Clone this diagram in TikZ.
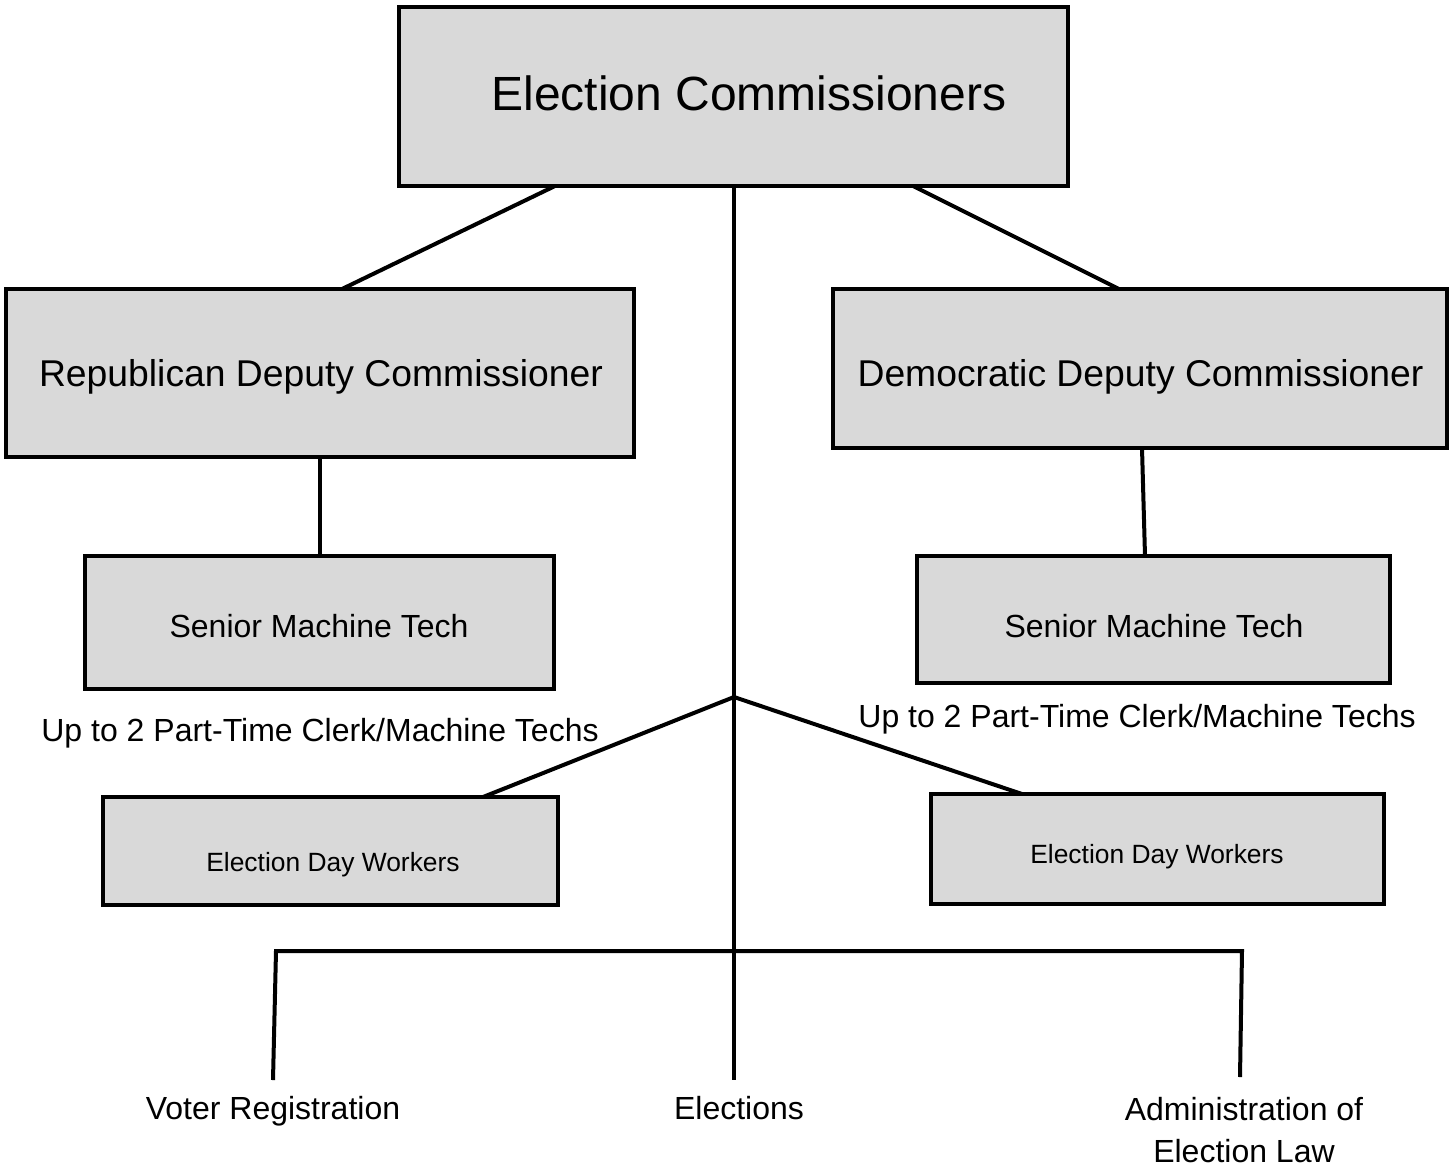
\documentclass[tikz,border=0pt]{standalone}
\usepackage{fontspec}
\setmainfont{Liberation Sans}
\begin{document}
\begin{tikzpicture}[x=1pt,y=-1pt,
  box/.style={draw=black,line width=4pt,fill={rgb,255:red,217;green,217;blue,217},inner sep=0pt,anchor=center},
  conn/.style={line width=4pt,draw=black},
  lbl/.style={inner sep=0pt,anchor=center,text=black}]
\useasboundingbox[fill=white] (0,0) rectangle (1453,1163);
% boxes
\node[box,minimum width=669pt,minimum height=179pt] (top) at (733.5,96.5) {};
\node[lbl,font=\fontsize{48}{58}\selectfont] (toptxt) at (749,93) {Election Commissioners};
\node[box,minimum width=628pt,minimum height=168pt] (rep) at (320,373) {};
\node[lbl,font=\fontsize{37.3}{44}\selectfont] (reptxt) at (321,377) {Republican Deputy Commissioner};
\node[box,minimum width=614pt,minimum height=159pt] (dem) at (1140,368.5) {};
\node[lbl,font=\fontsize{37.3}{44}\selectfont] (demtxt) at (1140.5,377) {Democratic Deputy Commissioner};
\node[box,minimum width=469pt,minimum height=133pt] (seniorL) at (319.5,622.5) {};
\node[lbl,font=\fontsize{32}{38}\selectfont] (seniorLtxt) at (319,626) {Senior Machine Tech};
\node[box,minimum width=473pt,minimum height=127pt] (seniorR) at (1153.5,619.5) {};
\node[lbl,font=\fontsize{32}{38}\selectfont] (seniorRtxt) at (1154,626) {Senior Machine Tech};
\node[box,minimum width=455pt,minimum height=108pt] (edwL) at (330.5,851) {};
\node[lbl,font=\fontsize{26.4}{32}\selectfont] (edwLtxt) at (333,865) {Election Day Workers};
\node[box,minimum width=453pt,minimum height=110pt] (edwR) at (1157.5,849) {};
\node[lbl,font=\fontsize{26.4}{32}\selectfont] (edwRtxt) at (1157,857) {Election Day Workers};
% free labels
\node[lbl,font=\fontsize{32}{38}\selectfont] (ptL) at (320,733) {Up to 2 Part-Time Clerk/Machine Techs};
\node[lbl,font=\fontsize{32}{38}\selectfont] (ptR) at (1137,719) {Up to 2 Part-Time Clerk/Machine Techs};
\node[lbl,font=\fontsize{32}{38}\selectfont] (voter) at (273,1111) {Voter Registration};
\node[lbl,font=\fontsize{32}{38}\selectfont] (elections) at (739,1108) {Elections};
\node[lbl,font=\fontsize{32}{38}\selectfont,align=center] (admin) at (1244,1130) {Administration of\\[4pt]Election Law};
% connector points
\coordinate (tL) at (555,186);
\coordinate (tR) at (913,186);
\coordinate (tM) at (734,186);
\coordinate (repT) at (342,289);
\coordinate (demT) at (1119,289);
\coordinate (repB) at (320,457);
\coordinate (sLT) at (320,556);
\coordinate (demB) at (1142,448);
\coordinate (sRT) at (1145,556);
\coordinate (fork) at (734,697);
\coordinate (eLT) at (483,797);
\coordinate (eRT) at (1022,794);
\coordinate (hM) at (734,951);
\coordinate (hL) at (276,951);
\coordinate (hR) at (1242,951);
\coordinate (vEnd) at (273,1080);
\coordinate (mEnd) at (734,1080);
\coordinate (aEnd) at (1240,1077);
% connectors
\draw[conn] (tL) -- (repT);
\draw[conn] (tR) -- (demT);
\draw[conn] (tM) -- (mEnd);
\draw[conn] (repB) -- (sLT);
\draw[conn] (demB) -- (sRT);
\draw[conn] (eLT) -- (fork) -- (eRT);
\draw[conn] (vEnd) -- (hL) -- (hR) -- (aEnd);
\end{tikzpicture}
\end{document}
